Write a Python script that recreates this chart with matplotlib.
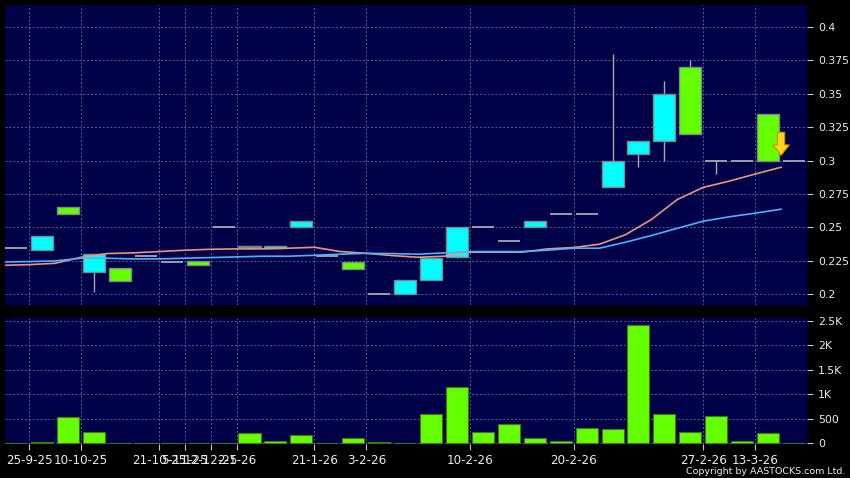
import matplotlib
matplotlib.use("Agg")
import matplotlib.pyplot as plt
import numpy as np

# ---- data ----
opens  = [0.235, 0.233, 0.265, 0.217, 0.220, 0.229, 0.224, 0.225, 0.250, 0.2362, 0.2348, 0.250, 0.229, 0.224, 0.200,
          0.200, 0.211, 0.228, 0.250, 0.240, 0.250, 0.260, 0.260, 0.280, 0.305, 0.315, 0.370, 0.300, 0.300, 0.335, 0.300]
closes = [0.235, 0.244, 0.260, 0.230, 0.210, 0.229, 0.224, 0.222, 0.250, 0.2352, 0.2358, 0.255, 0.229, 0.219, 0.200,
          0.211, 0.227, 0.250, 0.250, 0.240, 0.255, 0.260, 0.260, 0.300, 0.315, 0.350, 0.320, 0.300, 0.300, 0.300, 0.300]
highs  = [0.235, 0.244, 0.265, 0.230, 0.220, 0.229, 0.224, 0.225, 0.250, 0.2362, 0.2358, 0.255, 0.229, 0.224, 0.200,
          0.211, 0.227, 0.250, 0.250, 0.240, 0.255, 0.260, 0.260, 0.380, 0.315, 0.360, 0.375, 0.300, 0.300, 0.335, 0.300]
lows   = [0.235, 0.233, 0.260, 0.202, 0.210, 0.229, 0.224, 0.222, 0.250, 0.2352, 0.2348, 0.250, 0.229, 0.219, 0.200,
          0.200, 0.211, 0.227, 0.250, 0.240, 0.250, 0.260, 0.260, 0.280, 0.295, 0.300, 0.320, 0.290, 0.300, 0.300, 0.300]
volumes = [0, 30, 540, 230, 3, 3, 15, 3, 15, 220, 50, 170, 3, 110, 20,
           3, 590, 1160, 240, 390, 100, 45, 310, 290, 2410, 590, 232, 550, 50, 205, 0]
ma_orange = [0.2217, 0.2222, 0.2232, 0.2277, 0.2305, 0.2310, 0.2320, 0.2330, 0.2337, 0.2340, 0.2340, 0.2345, 0.2352,
             0.2320, 0.2307, 0.2290, 0.2277, 0.2285, 0.2315, 0.2315, 0.2315, 0.2340, 0.2350, 0.2375, 0.2446, 0.2560,
             0.2710, 0.2800, 0.2847, 0.2900, 0.2951]
ma_blue = [0.2242, 0.2245, 0.2250, 0.2270, 0.2270, 0.2265, 0.2265, 0.2270, 0.2275, 0.2280, 0.2285, 0.2285, 0.2292,
           0.2300, 0.2307, 0.2305, 0.2300, 0.2310, 0.2320, 0.2320, 0.2320, 0.2330, 0.2345, 0.2345, 0.2390, 0.2440,
           0.2494, 0.2547, 0.2580, 0.2607, 0.2637]
date_ticks = [0.5, 2.5, 5.5, 6.5, 7.5, 8.5, 11.5, 13.5, 17.5, 21.5, 26.5, 28.5]
date_labels = ["25-9-25", "10-10-25", "21-10-25", "5-11-25", "12-12-25", "2-1-26", "21-1-26", "3-2-26",
               "10-2-26", "20-2-26", "27-2-26", "13-3-26"]
price_ticks = [0.2, 0.225, 0.25, 0.275, 0.3, 0.325, 0.35, 0.375, 0.4]
price_labels = ["0.2", "0.225", "0.25", "0.275", "0.3", "0.325", "0.35", "0.375", "0.4"]
vol_ticks = [0, 500, 1000, 1500, 2000, 2500]
vol_labels = ["0", "500", "1K", "1.5K", "2K", "2.5K"]

# ---- style ----
BG = "#000000"
PANEL = "#000048"
GRID = "#5c5c94"
CYAN = "#00FFFF"
LIME = "#66FF00"
EDGE = "#7a8a8c"
WICK = "#a8a8b4"
TXT = "#ececec"

fig = plt.figure(figsize=(8.5, 4.78), dpi=100, facecolor=BG)
W, H = 850, 478
ax = fig.add_axes([5 / W, (H - 305) / H, 802 / W, 300 / H])
axv = fig.add_axes([5 / W, (H - 444) / H, 802 / W, 126 / H], sharex=ax)

n = len(opens)
x = np.arange(n)
bw = 0.85

for a in (ax, axv):
    a.set_facecolor(PANEL)
    for s in a.spines.values():
        s.set_visible(False)
    a.grid(True, color=GRID, linestyle=(0, (2, 2)), linewidth=0.7)
    a.set_axisbelow(True)
    a.yaxis.tick_right()
    a.tick_params(axis="y", colors="#c8c8c8", labelcolor=TXT, length=4, pad=4, labelsize=7.8, direction="out")

# candles
for i in x:
    o, c, h, l = opens[i], closes[i], highs[i], lows[i]
    if h > max(o, c) or l < min(o, c):
        ax.vlines(i, l, h, color=WICK, linewidth=1, zorder=2)
    if c == o:
        ax.hlines(o, i - bw / 2, i + bw / 2, color=WICK, linewidth=1.3, zorder=3)
    else:
        col = CYAN if c > o else LIME
        ax.bar(i, abs(c - o), bottom=min(o, c), width=bw, color=col, edgecolor=EDGE, linewidth=1, zorder=3)

xm = x - 0.5
ax.plot(xm, ma_orange, color="#E8967A", linewidth=1.2, zorder=4)
ax.plot(xm, ma_blue, color="#4FB0FF", linewidth=1.2, zorder=4)

# signal arrow
ax.arrow(29.5, 0.3213, 0, -0.0173, width=0.28, head_width=0.64, head_length=0.0078,
         length_includes_head=True, fc="#FFD21F", ec="#C89400", linewidth=0.8, zorder=5)

ax.set_xlim(-0.43, 30.5)
ax.set_ylim(0.192, 0.4165)
ax.set_yticks(price_ticks)
ax.set_yticklabels(price_labels)
ax.set_xticks(date_ticks)
ax.tick_params(axis="x", length=0, labelbottom=False)

# volume
axv.bar(x, volumes, width=bw, color=LIME, edgecolor="#3a7a10", linewidth=0.8, zorder=3)
axv.set_ylim(-15, 2560)
axv.set_yticks(vol_ticks)
axv.set_yticklabels(vol_labels)
axv.set_xticks(date_ticks)
axv.set_xticklabels(date_labels)
axv.tick_params(axis="x", colors="#c8c8c8", labelcolor=TXT, length=4, pad=3, labelsize=8.6, direction="out")

fig.text(845 / W, 1 - 476 / H, "Copyright by AASTOCKS.com Ltd.", color=TXT, fontsize=6.8,
         ha="right", va="bottom")

fig.savefig("out.png", dpi=100, facecolor=BG)
